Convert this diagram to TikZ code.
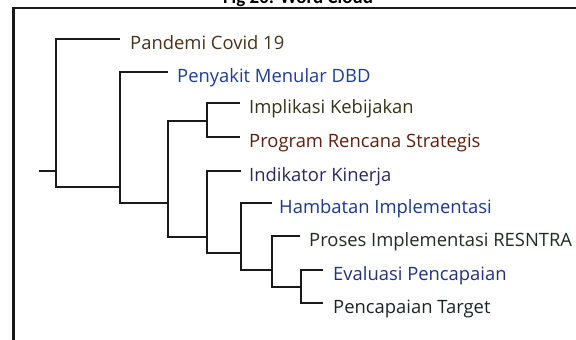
\documentclass[tikz,border=0pt]{standalone}
\usepackage{fontspec}
\setmainfont{Open Sans}
\newfontfamily\titlefont{Carlito}
\definecolor{cPan}{RGB}{72,50,28}
\definecolor{cPen}{RGB}{30,62,145}
\definecolor{cImp}{RGB}{52,52,26}
\definecolor{cPro}{RGB}{92,32,16}
\definecolor{cInd}{RGB}{42,42,92}
\definecolor{cHam}{RGB}{30,56,132}
\definecolor{cPrs}{RGB}{30,46,30}
\definecolor{cEva}{RGB}{36,50,122}
\definecolor{cTar}{RGB}{26,36,40}
\begin{document}
\begin{tikzpicture}[x=1pt,y=-1pt,
  link/.style={line width=1.6pt,black!90},
  leaf/.style={anchor=base west,inner sep=0pt,font=\fontsize{18.4}{20}\selectfont},
  frame/.style={black!90}]
\useasboundingbox (0,0) rectangle (576,340);
% title (cut off at the top)
\node[anchor=base,inner sep=0pt,font=\titlefont\bfseries\fontsize{19}{21}\selectfont] (title) at (298,3.5) {Fig 20: Word Cloud};
% frame
\draw[frame,line width=2pt] (12,7.5) -- (576,7.5);
\draw[frame,line width=3pt] (13.5,6.5) -- (13.5,340);
% join points of internal nodes
\coordinate (jR) at (56,171);
\coordinate (r0) at (39,171);
\coordinate (jA) at (120,187);
\coordinate (jB) at (168,203);
\coordinate (jC) at (207,121);
\coordinate (jD) at (207,237);
\coordinate (jE) at (241,253);
\coordinate (jF) at (272,270);
\coordinate (jG) at (301,287);
% leaf line ends
\coordinate (e1) at (120,39);
\coordinate (e2) at (168,72);
\coordinate (e3) at (240,103);
\coordinate (e4) at (240,137);
\coordinate (e5) at (241,171);
\coordinate (e6) at (272,203);
\coordinate (e7) at (300,236);
\coordinate (e8) at (323,270);
\coordinate (e9) at (323,303);
% leaf labels
\node[leaf,text=cPan] (t1) at (130,49) {Pandemi Covid 19};
\node[leaf,text=cPen] (t2) at (177,82) {Penyakit Menular DBD};
\node[leaf,text=cImp] (t3) at (249,113) {Implikasi Kebijakan};
\node[leaf,text=cPro] (t4) at (249,147) {Program Rencana Strategis};
\node[leaf,text=cInd] (t5) at (249,181) {Indikator Kinerja};
\node[leaf,text=cHam] (t6) at (279,213) {Hambatan Implementasi};
\node[leaf,text=cPrs] (t7) at (309,246) {Proses Implementasi RESNTRA};
\node[leaf,text=cEva] (t8) at (333,280) {Evaluasi Pencapaian};
\node[leaf,text=cTar] (t9) at (333,313) {Pencapaian Target};
% connectors
\draw[link] (r0) -- (jR);
\draw[link] (e1) -| (jR);
\draw[link] (jA) -| (jR);
\draw[link] (e2) -| (jA);
\draw[link] (jB) -| (jA);
\draw[link] (jC) -| (jB);
\draw[link] (jD) -| (jB);
\draw[link] (e3) -| (jC);
\draw[link] (e4) -| (jC);
\draw[link] (e5) -| (jD);
\draw[link] (jE) -| (jD);
\draw[link] (e6) -| (jE);
\draw[link] (jF) -| (jE);
\draw[link] (e7) -| (jF);
\draw[link] (jG) -| (jF);
\draw[link] (e8) -| (jG);
\draw[link] (e9) -| (jG);
\end{tikzpicture}
\end{document}
